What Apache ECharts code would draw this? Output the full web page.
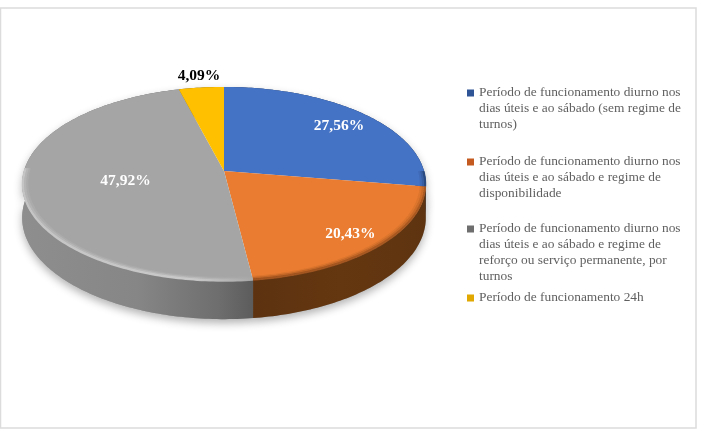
<!DOCTYPE html>
<html><head><meta charset="utf-8">
<style>html,body{margin:0;padding:0;background:#fff}#c{width:703px;height:434px;filter:blur(.45px)}</style>
<script src="https://cdn.jsdelivr.net/npm/echarts@6/dist/echarts.min.js"></script></head>
<body><div id="c"></div>
<script>
const categories = [
  "Período de funcionamento diurno nos\ndias úteis e ao sábado (sem regime de\nturnos)",
  "Período de funcionamento diurno nos\ndias úteis e ao sábado e regime de\ndisponibilidade",
  "Período de funcionamento diurno nos\ndias úteis e ao sábado e regime de\nreforço ou serviço permanente, por\nturnos",
  "Período de funcionamento 24h"
];
const values = [27.56, 20.43, 47.92, 4.09];
const colors = ["#4472C4", "#E97C30", "#A5A5A5", "#FFC000"];
const legendColors = ["#2F5597", "#C55A20", "#6E6E6E", "#E0A800"];
const labelColors = ["#fff", "#fff", "#fff", "#000"];
const labelRadius = [0.8, 0.83, 0.5, 1.17];
const legendTops = [85, 154, 221, 290];
const sideStops = [
  [[0,"#2a4a82"],[1,"#24406f"]],
  [[0,"#5c3210"],[0.5,"#653710"],[1,"#5e3410"]],
  [[0,"#8e8e8e"],[0.5,"#868686"],[0.85,"#6e6e6e"],[1,"#5c5c5c"]],
  [[0,"#a07800"],[1,"#a07800"]]
];
const rimStops = [
  [[0,"#27457a"],[1,"#27457a"]],
  [[0,"#9a4f1c"],[1,"#a3551e"]],
  [[0,"#c8c8c8"],[0.75,"#cccccc"],[1,"#a8a8a8"]],
  [[0,"#ffc000"],[1,"#ffc000"]]
];

// perspective projection of the disc
const CX=224, CY=171, A=200, B=95.3, K=0.134, DEPTH=33;
function proj(frac, r, down){
  const t=frac*2*Math.PI, u=r*Math.sin(t), v=-r*Math.cos(t), w=1/(1-K*v);
  return [CX+A*u*w, CY+B*v*w+(down?DEPTH*w:0)];
}
const total = values.reduce((a,b)=>a+b,0);
const starts = values.map((_,i)=>values.slice(0,i).reduce((a,b)=>a+b,0)/total);
function arc(f0,f1,r,down){
  const n=Math.max(2,Math.ceil((f1-f0)*360)), pts=[];
  for(let i=0;i<=n;i++) pts.push(proj(f0+(f1-f0)*i/n,r,down));
  return pts;
}
function grad(stops,x0,x1){
  return new echarts.graphic.LinearGradient(x0,0,Math.max(x1,x0+1),0,stops.map(s=>({offset:s[0],color:s[1]})),true);
}
function renderSlice(i){
  return function(params, api){
    const f0=starts[i], f1=f0+api.value(0)/total, kids=[];
    const topArc=arc(f0,f1,1,false), botArc=arc(f0,f1,1,true);
    const xs=topArc.map(p=>p[0]), xMin=Math.min(...xs), xMax=Math.max(...xs);
    // drop shadow under the disc
    kids.push({type:'polygon',z2:0,shape:{points:botArc.concat(topArc.slice().reverse())},
      style:{fill:'#999',shadowBlur:8,shadowColor:'rgba(0,0,0,0.3)',shadowOffsetY:4}});
    // wall
    kids.push({type:'polygon',z2:1,shape:{points:topArc.concat(botArc.slice().reverse())},
      style:{fill:grad(sideStops[i],xMin,xMax)}});
    // top face
    kids.push({type:'polygon',z2:10,shape:{points:[[CX,CY]].concat(topArc)},style:{fill:colors[i]}});
    // rim bevel, visible on the near half only
    const a0=Math.max(f0,0.25), a1=Math.min(f1,0.755);
    if(a1>a0){
      [[0.996,2.4,0.9],[0.985,2,0.45],[0.975,2,0.18]].forEach(r=>{
        kids.push({type:'polyline',z2:11,shape:{points:arc(a0,a1,r[0],false)},
          style:{fill:null,stroke:grad(rimStops[i],xMin,xMax),lineWidth:r[1],opacity:r[2]}});
      });
    }
    // data label
    const p=proj((f0+f1)/2,labelRadius[i],false);
    kids.push({type:'text',z2:20,x:p[0]+1,y:p[1]+1,style:{
      text:values[i].toFixed(2).replace('.',',')+'%',
      fill:labelColors[i],font:'bold 15.5px "Liberation Serif"',align:'center',verticalAlign:'middle'}});
    return {type:'group',children:kids};
  };
}
function legendIcon(name){
  const lines=name.split('\n').length, h=lines*15.8;
  return `path://M0 0h0z M7 ${h}h0z M0 4.4h7v7h-7z`;
}
const chart=echarts.init(document.getElementById('c'),null,{renderer:'canvas'});
chart.setOption({
  animation:false,
  backgroundColor:'#fff',
  color:legendColors,
  graphic:[{type:'rect',z:-1,shape:{x:0.5,y:8,width:695.5,height:420},
    style:{fill:'#fff',stroke:'#dcdcdc',lineWidth:1.5},silent:true}],
  legend:categories.map((c,i)=>({
    data:[c],left:467,top:legendTops[i],orient:'vertical',padding:0,
    itemWidth:7,itemHeight:c.split('\n').length*15.8,icon:legendIcon(c),selectedMode:false,
    textStyle:{fontFamily:'Liberation Serif',fontSize:13.4,color:'#5f5f5f',lineHeight:15.8}
  })),
  series:categories.map((c,i)=>({
    type:'custom',name:c,coordinateSystem:'none',silent:true,
    itemStyle:{color:legendColors[i]},
    renderItem:renderSlice(i),data:[values[i]]
  }))
});
</script></body></html>
